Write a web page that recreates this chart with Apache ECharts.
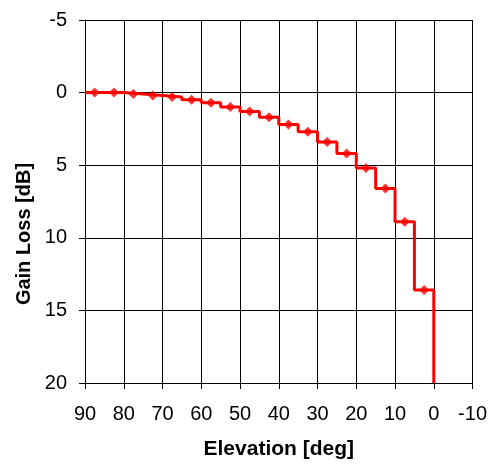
<!DOCTYPE html>
<html>
<head>
<meta charset="utf-8">
<script src="https://cdn.jsdelivr.net/npm/echarts@6/dist/echarts.min.js"></script>
<style>
  html, body { margin: 0; padding: 0; background: #fff; }
  #chart { width: 490px; height: 466px; }
</style>
</head>
<body>
<div id="chart"></div>
<script>
// Antenna gain loss per 5-degree elevation bin (bin centres)
const elevation = [87.5, 82.5, 77.5, 72.5, 67.5, 62.5, 57.5, 52.5, 47.5, 42.5,
                   37.5, 32.5, 27.5, 22.5, 17.5, 12.5, 7.5, 2.5];
const gainLoss  = [0, 0, 0.1, 0.2, 0.3, 0.5, 0.7, 1.0, 1.3, 1.7,
                   2.2, 2.7, 3.4, 4.2, 5.2, 6.6, 8.9, 13.6];
const binWidth = 5;
// loss below the horizon (drops off the bottom of the scale)
const horizonLoss = 20;

const xTicks = [90, 80, 70, 60, 50, 40, 30, 20, 10, 0, -10];
const yTicks = [-5, 0, 5, 10, 15, 20];

// stepped outline: each bin is a flat segment across its width
const stepLine = [];
elevation.forEach((e, i) => {
  stepLine.push([e + binWidth / 2, gainLoss[i]]);
  stepLine.push([e - binWidth / 2, gainLoss[i]]);
});
stepLine.push([elevation[elevation.length - 1] - binWidth / 2, horizonLoss]);

const font = "Arial, 'Liberation Sans', sans-serif";
const chart = echarts.init(document.getElementById('chart'), null, { renderer: 'canvas' });

chart.setOption({
  animation: false,
  backgroundColor: '#fff',
  grid: { left: 85, right: 17, top: 20, bottom: 83, containLabel: false },
  xAxis: {
    type: 'value',
    inverse: true,
    min: xTicks[xTicks.length - 1],
    max: xTicks[0],
    interval: 10,
    name: 'Elevation [deg]',
    nameLocation: 'middle',
    nameGap: 56,
    nameTextStyle: { fontFamily: font, fontSize: 21, fontWeight: 'bold', color: '#000' },
    axisLine: { onZero: false, lineStyle: { color: '#000', width: 1 } },
    axisTick: { show: true, inside: false, length: 6, lineStyle: { color: '#000' } },
    axisLabel: { fontFamily: font, fontSize: 20, color: '#000', margin: 21 },
    splitLine: { show: true, lineStyle: { color: '#000', width: 1 } }
  },
  yAxis: {
    type: 'value',
    inverse: true,
    min: yTicks[0],
    max: yTicks[yTicks.length - 1],
    interval: 5,
    axisLine: { show: true, onZero: false, lineStyle: { color: '#000', width: 1 } },
    axisTick: { show: true, inside: false, length: 6, lineStyle: { color: '#000' } },
    axisLabel: { fontFamily: font, fontSize: 20, color: '#000', margin: 18 },
    splitLine: { show: true, lineStyle: { color: '#000', width: 1 } }
  },
  graphic: [{
    type: 'text',
    x: 24,
    y: 234,
    rotation: Math.PI / 2,
    style: {
      text: 'Gain Loss [dB]',
      font: 'bold 20px ' + font,
      fill: '#000',
      textAlign: 'center',
      textVerticalAlign: 'middle'
    }
  }],
  series: [
    {
      type: 'line',
      data: stepLine,
      showSymbol: false,
      symbol: 'none',
      lineStyle: { color: '#ff0000', width: 3 },
      clip: true,
      z: 3
    },
    {
      type: 'scatter',
      data: elevation.map((e, i) => [e, gainLoss[i]]),
      symbol: 'diamond',
      symbolSize: [10, 10],
      itemStyle: { color: '#ff0000' },
      z: 4
    }
  ]
});
</script>
</body>
</html>
